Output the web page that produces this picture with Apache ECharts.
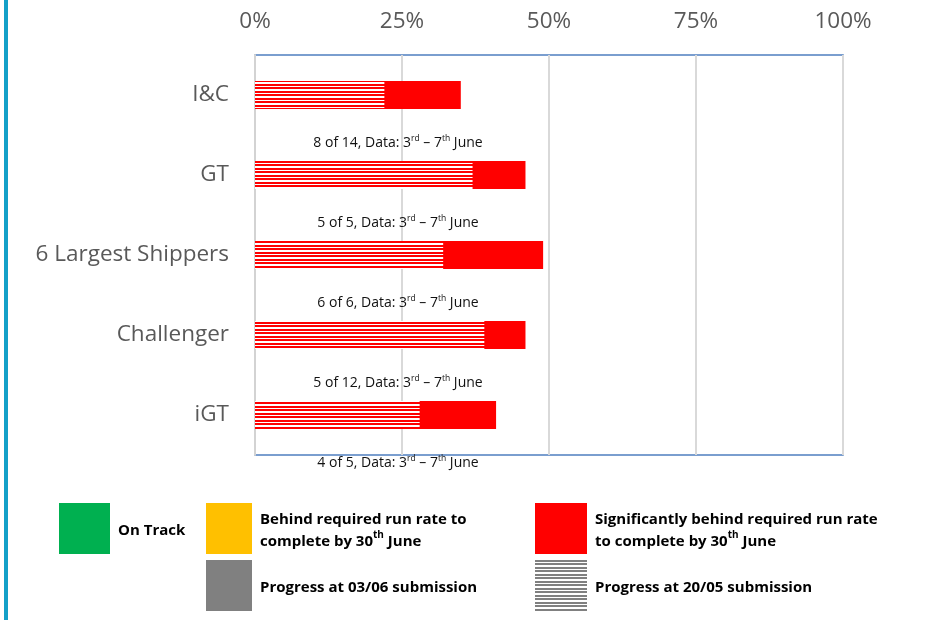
<!DOCTYPE html>
<html>
<head>
<meta charset="utf-8">
<script src="https://cdn.jsdelivr.net/npm/echarts@6/dist/echarts.min.js"></script>
<style>
  html, body { margin: 0; padding: 0; background: #fff; }
  #chart { width: 932px; height: 620px; }
</style>
</head>
<body>
<div id="chart"></div>
<script>
// values (percent complete)
const categories = ['I&C', 'GT', '6 Largest Shippers', 'Challenger', 'iGT'];
const progressAt2005 = [22, 37, 32, 39, 28];
const progressNow = [35, 46, 49, 46, 41];
const sampleNotes = ['8 of 14', '5 of 5', '6 of 6', '5 of 12', '4 of 5'];
const xTicks = [0, 25, 50, 75, 100];

const FONT = '"Open Sans", Lato, sans-serif';
const RED = '#FF0000';

// horizontal stripe pattern like the hatched bars
function stripes(color) {
  const c = document.createElement('canvas');
  c.width = 4;
  c.height = 7;
  const ctx = c.getContext('2d');
  ctx.fillStyle = '#fff';
  ctx.fillRect(0, 0, 4, 7);
  ctx.fillStyle = color;
  ctx.fillRect(0, 0, 4, 2);
  ctx.fillRect(0, 3, 4, 2);
  return c;
}

const noteRich = {
  n: { fontFamily: FONT, fontSize: 14, color: '#111', lineHeight: 18 },
  s: { fontFamily: FONT, fontSize: 8.5, color: '#111', lineHeight: 11, verticalAlign: 'top' }
};

const legendRich = {
  b: { fontFamily: FONT, fontSize: 15, fontWeight: 'bold', color: '#111', lineHeight: 22 },
  s: { fontFamily: FONT, fontSize: 10, fontWeight: 'bold', color: '#111', lineHeight: 14, verticalAlign: 'top' }
};

function legendBox(x, y, w, fill) {
  return { type: 'rect', left: x, top: y, shape: { width: w, height: 51 }, style: { fill: fill } };
}
function legendText(x, y, text) {
  return { type: 'text', left: x, top: y, style: { text: text, rich: legendRich, font: 'bold 15px ' + FONT } };
}

const chart = echarts.init(document.getElementById('chart'));

chart.setOption({
  animation: false,
  grid: {
    left: 255, right: 89, top: 55, bottom: 165,
    show: true, borderColor: '#4F7FC0', borderWidth: 1.5
  },
  xAxis: {
    type: 'value',
    position: 'top',
    min: xTicks[0],
    max: xTicks[xTicks.length - 1],
    interval: 25,
    axisLine: { show: false },
    axisTick: { show: false },
    axisLabel: {
      formatter: '{value}%',
      fontFamily: FONT, fontSize: 22.5, color: '#595959', margin: 22
    },
    splitLine: { lineStyle: { color: '#D9D9D9', width: 2 } }
  },
  yAxis: {
    type: 'category',
    inverse: true,
    data: categories,
    axisLine: { lineStyle: { color: '#D3D3D3', width: 2 } },
    axisTick: { show: false },
    axisLabel: { fontFamily: FONT, fontSize: 22.5, color: '#595959', margin: 26 }
  },
  series: [
    {
      name: 'Significantly behind required run rate',
      type: 'bar',
      data: progressNow,
      barWidth: 28,
      itemStyle: { color: RED },
      label: {
        show: true,
        position: [143, 62],
        align: 'center',
        verticalAlign: 'middle',
        formatter: p => '{n|' + sampleNotes[p.dataIndex] + ', Data: 3}{s|rd}{n| \u2013 7}{s|th}{n| June}',
        rich: noteRich
      }
    },
    {
      name: 'Progress at 20/05 submission',
      type: 'bar',
      data: progressAt2005,
      barWidth: 28,
      barGap: '-100%',
      itemStyle: { color: { image: stripes(RED), repeat: 'repeat' } }
    }
  ],
  graphic: [
    { type: 'rect', left: 4, top: 0, shape: { width: 4, height: 620 }, style: { fill: '#14A0C8' } },
    legendBox(59, 503, 51, '#00B050'),
    legendText(118, 523, '{b|On Track}'),
    legendBox(206, 503, 46, '#FFC000'),
    legendText(260, 512, '{b|Behind required run rate to}\n{b|complete by 30}{s|th}{b| June}'),
    legendBox(206, 560, 46, '#808080'),
    legendText(260, 580, '{b|Progress at 03/06 submission}'),
    legendBox(535, 503, 52, RED),
    legendText(595, 512, '{b|Significantly behind required run rate}\n{b|to complete by 30}{s|th}{b| June}'),
    legendBox(535, 560, 52, { image: stripes('#808080'), repeat: 'repeat' }),
    legendText(595, 580, '{b|Progress at 20/05 submission}')
  ]
});

window.addEventListener('resize', () => chart.resize());
</script>
</body>
</html>
